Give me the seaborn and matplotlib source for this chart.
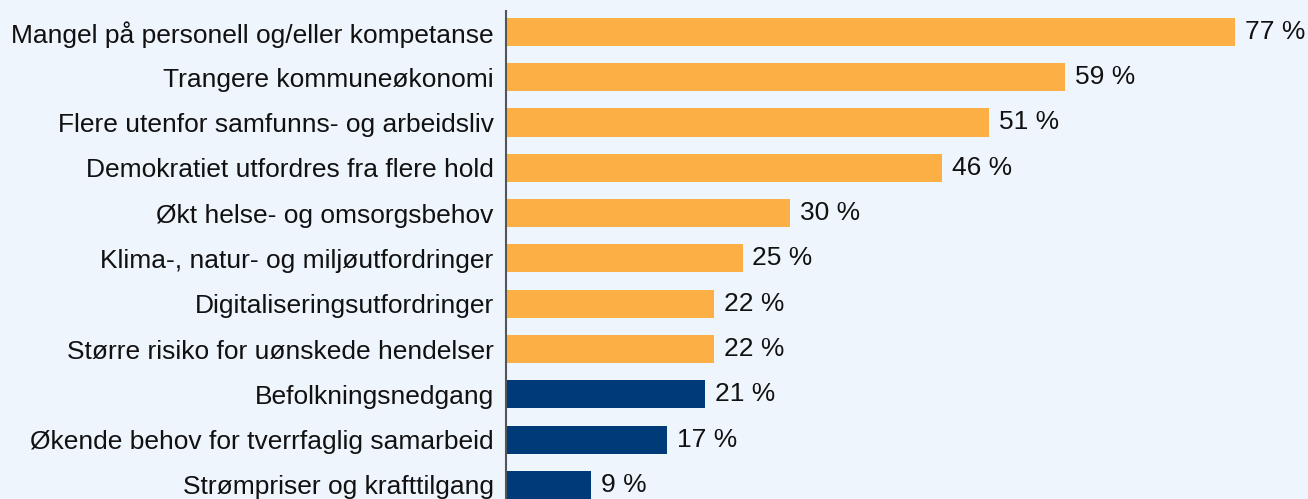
import matplotlib
matplotlib.use("Agg")
import matplotlib.pyplot as plt
import seaborn as sns
import pandas as pd

categories = [
    "Mangel på personell og/eller kompetanse",
    "Trangere kommuneøkonomi",
    "Flere utenfor samfunns- og arbeidsliv",
    "Demokratiet utfordres fra flere hold",
    "Økt helse- og omsorgsbehov",
    "Klima-, natur- og miljøutfordringer",
    "Digitaliseringsutfordringer",
    "Større risiko for uønskede hendelser",
    "Befolkningsnedgang",
    "Økende behov for tverrfaglig samarbeid",
    "Strømpriser og krafttilgang",
]
values = [77, 59, 51, 46, 30, 25, 22, 22, 21, 17, 9]
groups = ["top"] * 8 + ["rest"] * 3

ORANGE = "#FCAF45"
NAVY = "#003A78"
BG = "#EEF5FD"

df = pd.DataFrame({"cat": categories, "val": values, "grp": groups})

sns.set_theme(style="white")
plt.rcParams["font.family"] = ["Liberation Sans", "DejaVu Sans"]

fig = plt.figure(figsize=(13.08, 4.99), dpi=100)
fig.patch.set_facecolor(BG)
ax = fig.add_axes([505.5 / 1308, 0, 1 - 505.5 / 1308, 1 - 11 / 499])
ax.set_facecolor(BG)

sns.barplot(data=df, y="cat", x="val", hue="grp", palette={"top": ORANGE, "rest": NAVY},
            orient="h", width=0.62, dodge=False, legend=False, ax=ax, saturation=1,
            linewidth=0)

ax.set_xlim(0, 84.65)
ax.set_ylim(10.31, -0.46)
ax.set_xlabel("")
ax.set_ylabel("")
ax.set_xticks([])
for s in ["top", "right", "bottom"]:
    ax.spines[s].set_visible(False)
ax.spines["left"].set_color("#555555")
ax.spines["left"].set_linewidth(1.5)
ax.tick_params(axis="y", length=0, pad=8.5, labelsize=19, labelcolor="#111111")

for i, v in enumerate(values):
    ax.text(v + 1.05, i, f"{v} %", va="center", ha="left", fontsize=19, color="#111111")

fig.savefig("out.png", dpi=100, facecolor=BG)
